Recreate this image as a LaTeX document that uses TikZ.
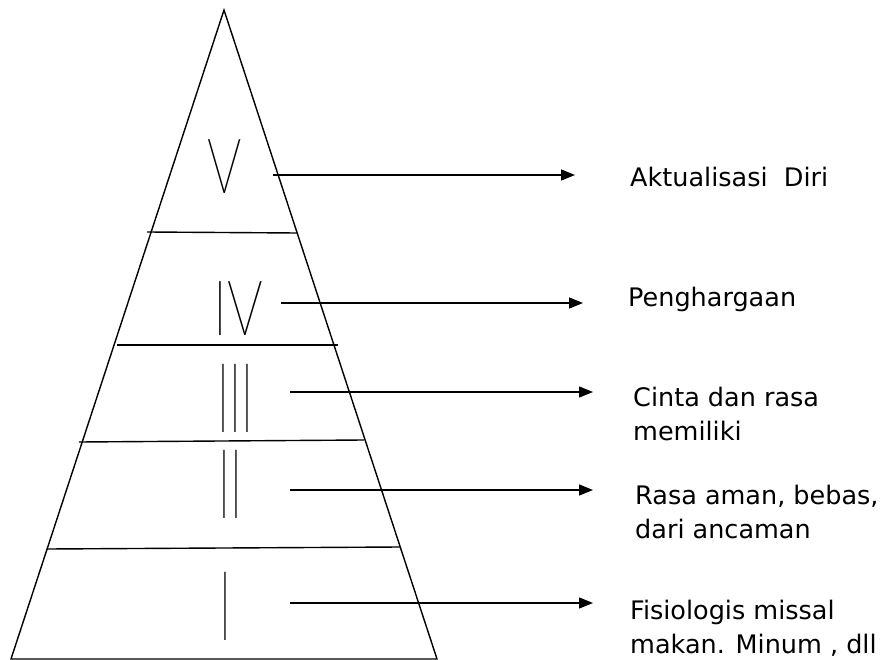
\documentclass[tikz,border=0pt]{standalone}
\usepackage{fontspec}
\setmainfont{DejaVu Sans}
\IfFontExistsTF{Lato-Thin.ttf}{\newfontfamily\romanfont{Lato-Thin.ttf}}{\newfontfamily\romanfont{Lato-Hairline.ttf}}
\usetikzlibrary{arrows.meta}

\tikzset{
  layer/.style={line width=1.4pt},
  numeral/.style={font=\romanfont\fontsize{97}{97}\selectfont, inner sep=0pt, text height=70pt, text depth=0pt, anchor=base, transform shape},
  need/.style={font=\fontsize{25.5}{34}\selectfont, inner sep=0pt, anchor=base west, align=left},
  pointer/.style={line width=1.4pt, -{Triangle[length=14pt,width=11pt]}}
}

\begin{document}
\begin{tikzpicture}[x=1pt, y=-1pt]
    \useasboundingbox (0,0) rectangle (891,660);

    % Pyramid
    \draw[layer] (11,659) -- (224,10) -- (437,659) -- cycle;
    \draw[layer] (147,232) -- (297,233);
    \draw[layer] (117,345) -- (338,345);
    \draw[layer] (79,442) -- (364,440);
    \draw[layer] (47,549) -- (400,547);

    % Levels
    \node[numeral, xscale=.55, yscale=.79] (n5) at (224.5,194) {V};
    \node[numeral, xscale=.57, yscale=.79] (n4) at (238,335) {IV};
    \node[numeral, xscale=.49] (n3) at (235.5,432) {III};
    \node[numeral, xscale=.49] (n2) at (230.5,518) {II};
    \node[numeral, xscale=.49] (n1) at (225,640) {I};

    % Needs
    \node[need] (l5) at (630,187) {Aktualisasi\ \ Diri};
    \node[need] (l4) at (628,306) {Penghargaan};
    \node[need] (l3) at (633,440) {Cinta dan rasa\\memiliki};
    \node[need] (l2) at (635,538) {Rasa aman, bebas,\\dari ancaman};
    \node[need] (l1) at (630,653) {Fisiologis missal\\makan. Minum , dll};

    % Arrows
    \coordinate (s5) at (273,175);
    \coordinate (t5) at (575,175);
    \coordinate (s4) at (281,303);
    \coordinate (t4) at (583,303);
    \coordinate (s3) at (290,392);
    \coordinate (t3) at (593,392);
    \coordinate (s2) at (290,490);
    \coordinate (t2) at (593,490);
    \coordinate (s1) at (290,603);
    \coordinate (t1) at (593,603);
    \draw[pointer] (s5) -- (t5);
    \draw[pointer] (s4) -- (t4);
    \draw[pointer] (s3) -- (t3);
    \draw[pointer] (s2) -- (t2);
    \draw[pointer] (s1) -- (t1);
\end{tikzpicture}
\end{document}
